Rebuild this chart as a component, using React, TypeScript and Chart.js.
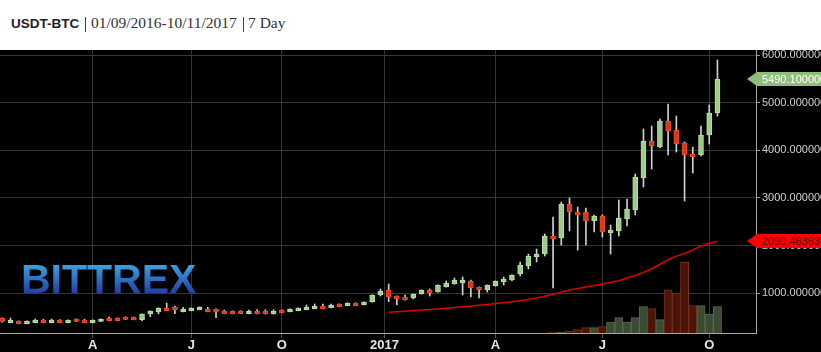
import React, { useEffect, useRef } from 'react';
import { Chart, registerables } from 'chart.js';

Chart.register(...registerables);

// Weekly candles, index 0 .. 87
const opens = [
  482, 383, 419, 362, 383, 439, 383, 439, 383, 460,
  439, 383, 408, 482, 482, 503, 500, 446, 572, 608,
  692, 713, 614, 635, 656, 671, 671, 629, 629, 629,
  572, 629, 629, 566, 650, 614, 635, 656, 677, 734,
  698, 776, 740, 797, 761, 818, 964, 1069, 943, 922,
  901, 985, 1069, 1027, 1132, 1195, 1216, 1258, 1132, 1069,
  1153, 1237, 1279, 1405, 1573, 1762, 1824, 2202, 2160, 2873,
  2706, 2706, 2517, 2622, 2265, 2307, 2559, 2748, 3420, 4196,
  4070, 4615, 4426, 4153, 3923, 3902, 4321, 4783,
];
const closes = [
  410, 439, 362, 419, 439, 383, 439, 383, 439, 408,
  383, 439, 460, 425, 425, 450, 446, 566, 629, 692,
  635, 656, 671, 692, 713, 614, 614, 572, 572, 572,
  629, 572, 566, 629, 593, 671, 692, 713, 734, 677,
  755, 719, 797, 740, 818, 964, 1048, 922, 880, 859,
  985, 1069, 1006, 1174, 1216, 1279, 1279, 1111, 1069, 1174,
  1258, 1300, 1384, 1594, 1782, 1824, 2202, 2139, 2873, 2706,
  2643, 2517, 2622, 2286, 2328, 2580, 2769, 3441, 4196, 4091,
  4615, 4405, 4132, 3902, 3860, 4321, 4783, 5490.1,
];
const highs = [
  485, 482, 422, 422, 460, 455, 460, 450, 442, 463,
  455, 442, 463, 500, 485, 506, 503, 570, 632, 695,
  796, 734, 706, 695, 716, 706, 674, 650, 632, 632,
  650, 660, 656, 656, 653, 674, 695, 755, 776, 776,
  776, 779, 800, 800, 821, 967, 1090, 1195, 946, 964,
  988, 1072, 1090, 1177, 1258, 1321, 1342, 1279, 1135, 1177,
  1261, 1342, 1387, 1657, 1824, 1929, 2244, 2601, 2915, 2999,
  2810, 2789, 2643, 2643, 2433, 2957, 2978, 3503, 4448, 4510,
  4657, 4972, 4720, 4175, 4069, 4510, 4950, 5895,
];
const lows = [
  395, 380, 358, 358, 380, 380, 380, 380, 380, 405,
  380, 380, 405, 422, 422, 447, 443, 425, 509, 566,
  632, 572, 611, 632, 653, 611, 488, 569, 569, 569,
  569, 569, 563, 563, 590, 611, 632, 653, 674, 674,
  695, 716, 737, 737, 758, 815, 943, 824, 755, 856,
  880, 982, 943, 1024, 1129, 1192, 964, 922, 901, 1027,
  1150, 1174, 1258, 1363, 1510, 1657, 1782, 1111, 2013, 2307,
  1908, 2013, 2286, 2181, 1824, 2202, 2412, 2643, 3230, 3608,
  4049, 3902, 3964, 2936, 3524, 3881, 4132, 4720,
];

// Volume (relative units), from candle index 67
const volumeStart = 67;
const volumes = [3, 3, 6, 10, 16, 16, 19, 33, 46, 33, 46, 79, 73, 40, 130, 120, 214, 82, 82, 57, 79];

// Moving average, from candle index 47
const maStart = 47;
const maValues = [
  601, 613, 625, 637, 649, 661, 673, 688, 703, 718,
  734, 750, 766, 784, 803, 823, 845, 872, 900, 940,
  980, 1025, 1069, 1100, 1130, 1162, 1195, 1230, 1264, 1320,
  1375, 1440, 1515, 1610, 1705, 1780, 1835, 1910, 1990, 2050,
  2090.463637,
];

const xTickIndex = [11, 23, 34, 46.5, 60, 73, 86];
const xTickLabels = ['A', 'J', 'O', '2017', 'A', 'J', 'O'];
const yTicks = [1000, 2000, 3000, 4000, 5000, 6000];

const SANS = '"Liberation Sans", Arial, Helvetica, sans-serif';

export default function App() {
  const ref = useRef<HTMLCanvasElement | null>(null);

  useEffect(() => {
    if (!ref.current) return;
    const idx = opens.map((_, i) => i);
    const isUp = (i: number) => closes[i] >= opens[i];

    const bodies = idx.map((i) => ({ x: i, y: [Math.min(opens[i], closes[i]), Math.max(opens[i], closes[i])] }));
    const wicks = idx.map((i) => ({ x: i, y: [lows[i], highs[i]] }));
    const vol = volumes.map((v, k) => ({ x: volumeStart + k, y: v }));
    const ma = maValues.map((v, k) => ({ x: maStart + k, y: v }));

    const logoPlugin = {
      id: 'logo',
      beforeDatasetsDraw(chart: any) {
        const { ctx } = chart;
        ctx.save();
        ctx.font = `bold 41px ${SANS}`;
        const g = ctx.createLinearGradient(0, 213, 0, 243);
        g.addColorStop(0, '#3aa8e8');
        g.addColorStop(1, '#2240a4');
        ctx.fillStyle = g;
        ctx.textBaseline = 'alphabetic';
        ctx.textAlign = 'left';
        ctx.fillText('BITTREX', 21, 243);
        ctx.restore();
      },
    };

    const tagPlugin = {
      id: 'tags',
      afterDraw(chart: any) {
        const { ctx, chartArea } = chart;
        const ys = chart.scales.y;
        const draw = (val: number, fill: string, txt: string) => {
          const py = Math.round(ys.getPixelForValue(val));
          const x0 = chartArea.right - 9;
          const x1 = chartArea.right + 1;
          const x2 = chart.width;
          ctx.save();
          ctx.beginPath();
          ctx.moveTo(x0, py);
          ctx.lineTo(x1, py - 7);
          ctx.lineTo(x2, py - 7);
          ctx.lineTo(x2, py + 7);
          ctx.lineTo(x1, py + 7);
          ctx.closePath();
          ctx.fillStyle = fill;
          ctx.fill();
          ctx.fillStyle = txt;
          ctx.font = `11px ${SANS}`;
          ctx.textBaseline = 'middle';
          ctx.textAlign = 'left';
          ctx.fillText(val.toFixed(6), chartArea.right + 6, py + 0.5);
          ctx.restore();
        };
        draw(closes[closes.length - 1], '#8fbf7a', '#ffffff');
        draw(maValues[maValues.length - 1], '#ff0000', '#4a0000');
      },
    };

    const chart = new Chart(ref.current, {
      type: 'bar',
      data: {
        datasets: [
          {
            type: 'bar',
            label: 'body',
            data: bodies as any,
            backgroundColor: idx.map((i) => (isUp(i) ? '#9ccc86' : '#d8381b')),
            borderColor: idx.map((i) => (isUp(i) ? '#b9e0a8' : '#ee4a2a')),
            borderWidth: 1,
            borderSkipped: false,
            barThickness: 5,
            grouped: false,
            order: 0,
          } as any,
          {
            type: 'bar',
            label: 'wick',
            data: wicks as any,
            backgroundColor: '#cfcfcf',
            borderWidth: 0,
            barThickness: 1,
            grouped: false,
            order: 1,
          } as any,
          {
            type: 'line',
            label: 'ma',
            data: ma as any,
            borderColor: '#e00000',
            borderWidth: 1.5,
            pointRadius: 0,
            tension: 0,
            order: 2,
          } as any,
          {
            type: 'bar',
            label: 'volume',
            data: vol as any,
            yAxisID: 'yv',
            backgroundColor: volumes.map((_, k) => (isUp(volumeStart + k) ? '#3b4a33' : '#4a1409')),
            borderColor: volumes.map((_, k) => (isUp(volumeStart + k) ? '#58694c' : '#76301f')),
            borderWidth: 1,
            barPercentage: 1,
            categoryPercentage: 1,
            grouped: false,
            order: 3,
          } as any,
        ],
      },
      options: {
        animation: false,
        responsive: false,
        maintainAspectRatio: false,
        layout: { padding: 0 },
        plugins: {
          legend: { display: false },
          tooltip: { enabled: false },
          title: { display: false },
        },
        scales: {
          x: {
            type: 'linear',
            min: -0.28,
            max: 91.69,
            bounds: 'data',
            offset: false,
            afterBuildTicks: (s: any) => {
              s.ticks = xTickIndex.map((v) => ({ value: v }));
            },
            afterFit: (s: any) => {
              s.height = 19;
              s.paddingLeft = 0;
              s.paddingRight = 0;
            },
            ticks: {
              autoSkip: false,
              maxRotation: 0,
              minRotation: 0,
              padding: 0,
              color: '#e6e6e6',
              font: { family: SANS, size: 13, weight: 'bold' },
              callback: (_v: any, i: number) => xTickLabels[i],
            },
            grid: { offset: false, color: '#363636', tickColor: '#555', tickLength: 5, lineWidth: 1 },
            border: { display: true, color: '#a8a8a8', width: 1 },
          } as any,
          y: {
            type: 'linear',
            position: 'right',
            min: 167,
            max: 6105,
            bounds: 'data',
            afterBuildTicks: (s: any) => {
              s.ticks = yTicks.map((v) => ({ value: v }));
            },
            afterFit: (s: any) => {
              s.width = 65;
              s.paddingTop = 0;
              s.paddingBottom = 0;
            },
            ticks: {
              padding: 2,
              color: '#d0d0d0',
              font: { family: SANS, size: 11 },
              callback: (v: any) => Number(v).toFixed(6),
            },
            grid: { color: '#363636', tickColor: '#999', tickLength: 4, lineWidth: 1 },
            border: { display: true, color: '#a8a8a8', width: 1 },
          } as any,
          yv: {
            type: 'linear',
            display: false,
            min: 0,
            max: 850,
          } as any,
        },
      },
      plugins: [logoPlugin, tagPlugin],
    } as any);
    return () => chart.destroy();
  }, []);

  const serif = '"Liberation Serif", "DejaVu Serif", serif';
  return (
    <div style={{ position: 'fixed', left: 0, top: 0, width: 821, height: 352, background: '#fff', overflow: 'hidden' }}>
      <div style={{ position: 'absolute', left: 11, top: 16.6, fontFamily: SANS, fontWeight: 'bold', fontSize: 13.5, lineHeight: '13.5px', color: '#222', whiteSpace: 'nowrap' }}>
        USDT-BTC
      </div>
      <div style={{ position: 'absolute', left: 85, top: 17, width: 1, height: 15, background: '#444' }} />
      <div style={{ position: 'absolute', left: 91, top: 15, fontFamily: serif, fontSize: 15.5, lineHeight: '15.5px', color: '#333', whiteSpace: 'nowrap' }}>
        01/09/2016-10/11/2017
      </div>
      <div style={{ position: 'absolute', left: 243, top: 17, width: 1, height: 15, background: '#444' }} />
      <div style={{ position: 'absolute', left: 248, top: 15, fontFamily: serif, fontSize: 15.5, lineHeight: '15.5px', color: '#333', whiteSpace: 'nowrap' }}>
        7 Day
      </div>
      <canvas
        ref={ref}
        width={821}
        height={302}
        style={{ position: 'absolute', left: 0, top: 50, width: 821, height: 302, display: 'block', background: '#000' }}
      />
    </div>
  );
}
